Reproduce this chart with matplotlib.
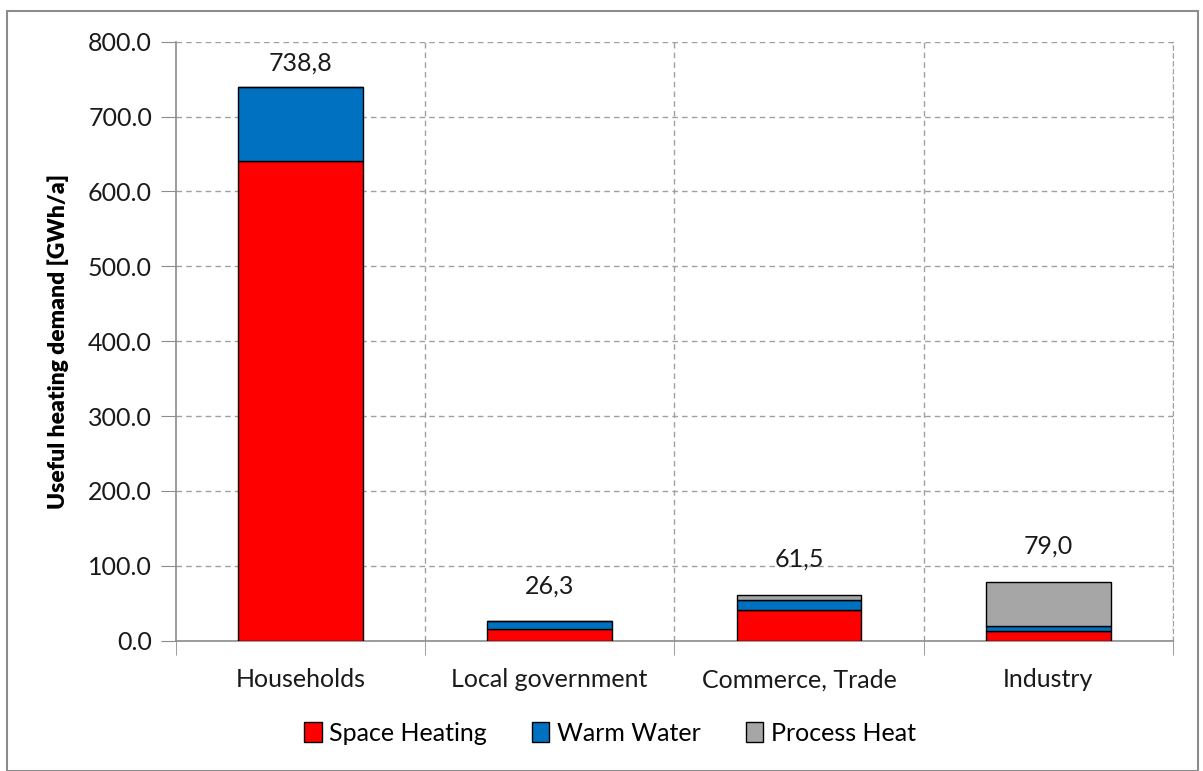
import matplotlib.pyplot as plt
import numpy as np
from matplotlib.patches import Rectangle

# useful heating demand per sector [GWh/a]
sectors = ['Households', 'Local government', 'Commerce, Trade', 'Industry']
space_heating = [641.0, 15.6, 40.5, 13.5]
warm_water = [97.8, 10.7, 14.5, 6.5]
process_heat = [0.0, 0.0, 6.5, 59.0]
totals = ['738,8', '26,3', '61,5', '79,0']

plt.rcParams['font.family'] = ['Lato', 'DejaVu Sans']

fig = plt.figure(figsize=(12.03, 7.71), dpi=100)
ax = fig.add_axes([0.146, 0.169, 0.829, 0.777])

# outer chart frame
fig.patches.append(Rectangle((0.006, 0.0), 0.99, 0.986, transform=fig.transFigure,
                             fill=False, edgecolor='#8c8c8c', linewidth=1.5))

x = np.arange(len(sectors))
w = 0.5
sh = np.array(space_heating)
ww = np.array(warm_water)
ph = np.array(process_heat)

ax.bar(x, sh, w, color='#ff0000', edgecolor='black', linewidth=1, label='Space Heating', zorder=3)
ax.bar(x, ww, w, bottom=sh, color='#0070c0', edgecolor='black', linewidth=1, label='Warm Water', zorder=3)
ax.bar(x, ph, w, bottom=sh + ww, color='#a6a6a6', edgecolor='black', linewidth=1, label='Process Heat', zorder=3)

# totals above the stacks, kept inside the plot area
for xi, top, txt in zip(x, sh + ww + ph, totals):
    ax.text(xi, min(top + 47, 772), txt, ha='center', va='center', fontsize=18, color='#1a1a1a')

ax.set_xlim(-0.5, len(sectors) - 0.5)
ax.set_ylim(0, 800)
ax.set_yticks(np.arange(0, 801, 100))
ax.set_yticklabels([f'{v:.1f}' for v in np.arange(0, 801, 100)], fontsize=18, color='#1a1a1a')
ax.set_xticks(x)
ax.set_xticklabels(sectors, fontsize=18, color='#1a1a1a')
ax.tick_params(axis='x', length=0, pad=20)
ax.tick_params(axis='y', length=11, color='#8c8c8c', pad=6)

# tick marks between categories
ax.set_xticks(np.arange(-0.5, len(sectors)), minor=True)
ax.tick_params(axis='x', which='minor', length=10, color='#8c8c8c', direction='out')

ax.set_ylabel('Useful heating demand [GWh/a]', fontsize=16.5, fontweight='heavy', labelpad=14)

# dashed grid
ax.grid(axis='y', linestyle=(0, (4, 3)), color='#a0a0a0', linewidth=1, zorder=0)
for b in np.arange(0.5, len(sectors)):
    ax.axvline(b, linestyle=(0, (4, 3)), color='#a0a0a0', linewidth=1, zorder=0)

ax.spines['top'].set_visible(False)
ax.spines['right'].set_linestyle((0, (4, 3)))
ax.spines['right'].set_color('#a0a0a0')
ax.spines['left'].set_color('#8c8c8c')
ax.spines['bottom'].set_color('#8c8c8c')
ax.spines['left'].set_linewidth(1.2)
ax.spines['bottom'].set_linewidth(1.2)

fig.legend(*ax.get_legend_handles_labels(), loc='center', bbox_to_anchor=(0.507, 0.049), ncol=3,
           frameon=False, fontsize=18, handlelength=0.7, handleheight=0.8, handletextpad=0.3,
           columnspacing=1.8)

fig.savefig('out.png', dpi=100)
